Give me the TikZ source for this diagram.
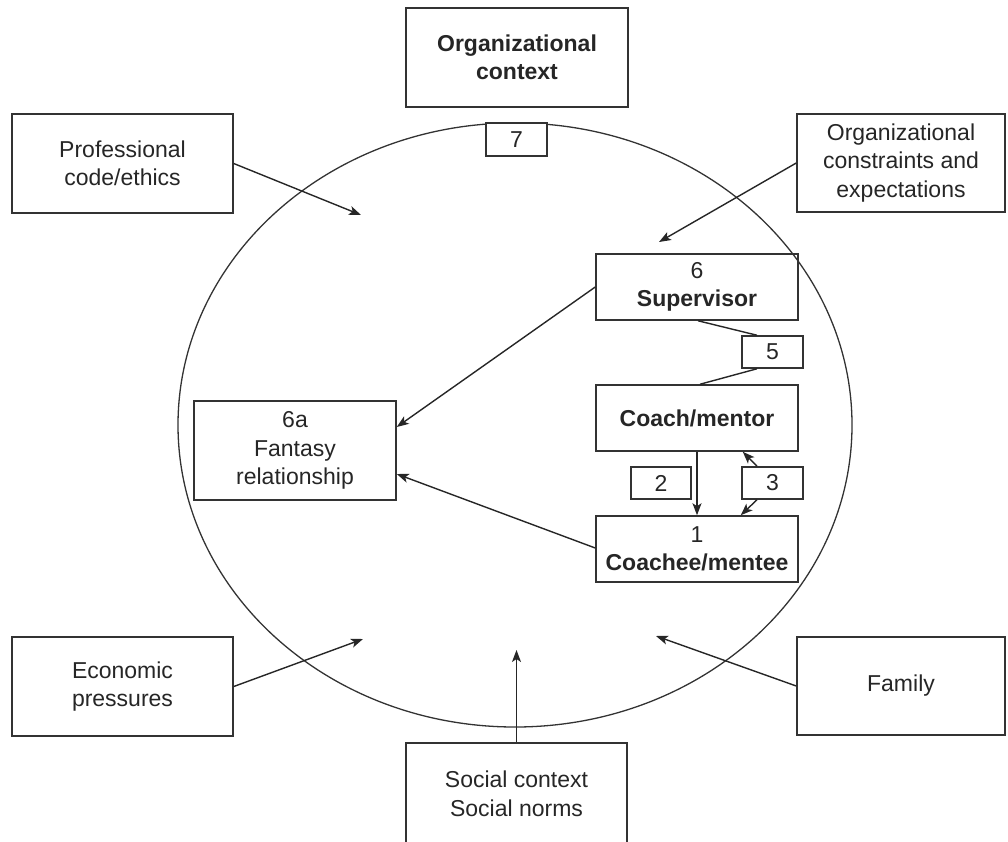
\documentclass[tikz,border=0pt]{standalone}
\usepackage{fontspec}
\setmainfont{Liberation Sans}
\usetikzlibrary{arrows.meta}
\begin{document}
\begin{tikzpicture}[x=1pt,y=-1pt,
  box/.style={draw=black!80, line width=1.5pt, align=center, inner sep=0pt,
    text=black!85, font=\fontsize{23}{28.5}\selectfont},
  bbox/.style={box, font=\fontsize{23}{28.5}\selectfont\bfseries},
  conn/.style={draw=black!85, line width=1.4pt},
  arr/.style={conn, -{Stealth[length=12pt,width=9pt,inset=3pt]}}]
\useasboundingbox (0,0) rectangle (1008,841);
% enclosing ellipse
\draw[black!80, line width=1.3pt] (515,425) ellipse [x radius=337, y radius=302];
% outer boxes
\node[bbox, minimum width=222, minimum height=99] (org) at (517,57.5) {Organizational\\context};
\node[box, fill=white, minimum width=61, minimum height=33] (b7) at (516.5,139.5) {7};
\node[box, minimum width=221, minimum height=99] (prof) at (122.5,163.5) {Professional\\code/ethics};
\node[box, minimum width=208, minimum height=98] (orgc) at (901,163) {Organizational\\constraints and\\expectations};
\node[box, minimum width=221, minimum height=99] (econ) at (122.5,686.5) {Economic\\pressures};
\node[box, minimum width=208, minimum height=98] (fam) at (901,686) {Family};
\node[box, minimum width=221, minimum height=102] (soc) at (516.5,794) {Social context\\Social norms};
% inner boxes
\node[box, minimum width=202, minimum height=66] (sup) at (697,287) {6\\\textbf{Supervisor}};
\node[box, minimum width=61, minimum height=32] (b5) at (772.5,352) {5};
\node[bbox, minimum width=202, minimum height=66] (coach) at (697,418) {Coach/mentor};
\node[box, minimum width=60, minimum height=32] (b2) at (661,483) {2};
\node[box, minimum width=61, minimum height=32] (b3) at (772.5,483) {3};
\node[box, minimum width=202, minimum height=66] (coachee) at (697,549) {1\\\textbf{Coachee/mentee}};
\node[box, minimum width=202, minimum height=99] (fant) at (295,450.5) {6a\\Fantasy\\relationship};
% free ends of outer arrows
\coordinate (tprof) at (361,215);
\coordinate (torgc) at (659,242);
\coordinate (tecon) at (363,639);
\coordinate (tfam) at (656,636);
\coordinate (tsoc) at (516.5,650);
% outer arrows
\draw[arr] (prof.east) -- (tprof);
\draw[arr] (orgc.west) -- (torgc);
\draw[arr] (econ.east) -- (tecon);
\draw[arr] (fam.west) -- (tfam);
\draw[arr] (soc.north) -- (tsoc);
% inner connectors
\draw[arr] (sup.west) -- ([yshift=23.5pt]fant.east);
\draw[arr] ([yshift=1pt]coachee.west) -- ([yshift=-23.5pt]fant.east);
\draw[arr] (coach.south) -- (coachee.north);
\draw[arr] ([xshift=-15.5pt]b3.north) -- ([xshift=-56pt]coach.south east);
\draw[arr] ([xshift=-15.5pt]b3.south) -- ([xshift=-58pt]coachee.north east);
\draw[conn] ([xshift=1pt]sup.south) -- ([xshift=-15.5pt]b5.north);
\draw[conn] ([xshift=-15.5pt]b5.south) -- ([xshift=3pt]coach.north);
\end{tikzpicture}
\end{document}
